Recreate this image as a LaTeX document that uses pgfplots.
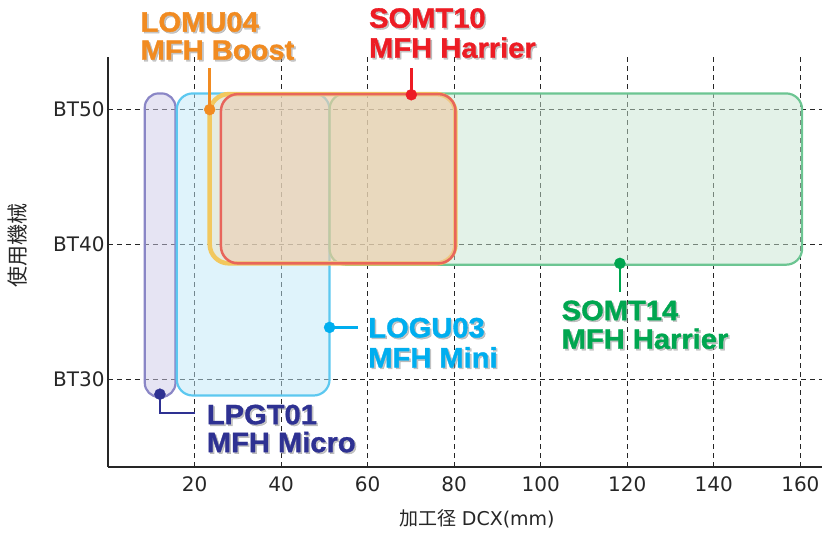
\documentclass[border=0pt]{standalone}
\usepackage{fontspec}
\setmainfont{Liberation Sans}
\newfontfamily\jpfont{Noto Sans CJK JP}
\newfontfamily\tickfont{DejaVu Sans}
\newfontfamily\lblfont{Liberation Sans Bold}[FakeBold=1.2, FakeStretch=1.04]
\usepackage{pgfplots}
\pgfplotsset{compat=1.18}

% box colours (fills are drawn half transparent)
\definecolor{microLine}{HTML}{8A86C6}
\definecolor{microFill}{HTML}{CDC9E7}
\definecolor{miniLine}{HTML}{5CC8F0}
\definecolor{miniFill}{HTML}{BFE7F7}
\definecolor{harrLine}{HTML}{6CC592}
\definecolor{harrFill}{HTML}{C7E5D1}
\definecolor{boostLine}{HTML}{F2C85E}
\definecolor{boostFill}{HTML}{F5D9A0}
\definecolor{tenLine}{HTML}{E8655B}
\definecolor{tenFill}{HTML}{ECC8AA}
% callout colours
\definecolor{cOrange}{HTML}{F18B21}
\definecolor{cRed}{HTML}{ED1C24}
\definecolor{cBlue}{HTML}{00AEEF}
\definecolor{cNavy}{HTML}{2E3192}
\definecolor{cGreen}{HTML}{00A650}

\newcommand{\lbl}{\lblfont\fontsize{28bp}{30bp}\selectfont}
% x, y of first baseline, y of second baseline, colour, line 1, line 2
\newcommand{\callout}[6]{%
  \node[anchor=base west, inner sep=0pt, text=black!45, text opacity=0.5]
    at ([xshift=1.6bp,yshift=-1.6bp]axis cs:#1,#2) {\lbl #5};
  \node[anchor=base west, inner sep=0pt, text=black!45, text opacity=0.5]
    at ([xshift=1.6bp,yshift=-1.6bp]axis cs:#1,#3) {\lbl #6};
  \node[anchor=base west, inner sep=0pt, text=#4] at (axis cs:#1,#2) {\lbl #5};
  \node[anchor=base west, inner sep=0pt, text=#4] at (axis cs:#1,#3) {\lbl #6};
}

\begin{document}
\begin{tikzpicture}
\begin{axis}[
    name=ax,
    scale only axis,
    width=714bp, height=410bp,
    xmin=0, xmax=165, ymin=23.5, ymax=53.9,
    axis x line*=bottom, axis y line*=left,
    axis line style={-, line width=1.8bp, black!85},
    xtick={20,40,...,160},
    ytick={30,40,50},
    yticklabels={BT30,BT40,BT50},
    major tick length=0pt,
    tick label style={font=\tickfont\fontsize{20bp}{22bp}\selectfont, text=black!85},
    xticklabel style={yshift=-6bp},
    /pgf/number format/assume math mode=true,
    grid=major,
    major grid style={black!85, line width=1bp, dash pattern=on 5bp off 4bp},
    clip=false,
]
% LPGT01 MFH Micro
\addplot[draw=microLine, fill=microFill, fill opacity=0.5, line width=2.2bp, rounded corners=14bp]
  coordinates {(12,28.7) (15.6,28.7) (15.6,51.2) (8.5,51.2) (8.5,28.7) (12,28.7)};
% LOGU03 MFH Mini
\addplot[draw=miniLine, fill=miniFill, fill opacity=0.5, line width=2.2bp, rounded corners=16bp]
  coordinates {(33,28.8) (51.2,28.8) (51.2,51.2) (15.9,51.2) (15.9,28.8) (33,28.8)};
% SOMT14 MFH Harrier
\addplot[draw=harrLine, fill=harrFill, fill opacity=0.5, line width=2.2bp, rounded corners=16bp]
  coordinates {(105,38.5) (160.4,38.5) (160.4,51.2) (51.2,51.2) (51.2,38.5) (105,38.5)};
% LOMU04 MFH Boost
\addplot[draw=boostLine, fill=boostFill, fill opacity=0.3, line width=4.5bp, rounded corners=19bp]
  coordinates {(50,38.6) (80.3,38.6) (80.3,51.15) (23.5,51.15) (23.5,38.6) (50,38.6)};
% SOMT10 MFH Harrier
\addplot[draw=tenLine, fill=tenFill, fill opacity=0.5, line width=2.5bp, rounded corners=17bp]
  coordinates {(50,38.6) (80.3,38.6) (80.3,51.15) (26.1,51.15) (26.1,38.6) (50,38.6)};

% callout leaders
\addplot[cOrange, line width=2.5bp] coordinates {(23.5,50) (23.5,53.1)};
\addplot[cRed, line width=2.5bp] coordinates {(70.1,51.1) (70.1,53.05)};
\addplot[cBlue, line width=2.5bp] coordinates {(51.2,33.85) (57.8,33.85)};
\addplot[cNavy, line width=2.5bp] coordinates {(12,28.9) (12,27.5) (20,27.5)};
\addplot[cGreen, line width=2.5bp] coordinates {(118.3,38.6) (118.3,36.45)};
\addplot[cOrange, only marks, mark=*, mark size=5.5bp] coordinates {(23.5,50)};
\addplot[cRed, only marks, mark=*, mark size=5.5bp] coordinates {(70.1,51.1)};
\addplot[cBlue, only marks, mark=*, mark size=5.5bp] coordinates {(51.2,33.85)};
\addplot[cNavy, only marks, mark=*, mark size=5.5bp] coordinates {(12,28.9)};
\addplot[cGreen, only marks, mark=*, mark size=5.5bp] coordinates {(118.3,38.6)};

\callout{7.5}{55.78}{53.70}{cOrange}{LOMU04}{MFH Boost}
\callout{60.3}{56.07}{53.85}{cRed}{SOMT10}{MFH Harrier}
\callout{60.1}{33.11}{30.89}{cBlue}{LOGU03}{MFH Mini}
\callout{22.8}{26.67}{24.60}{cNavy}{LPGT01}{MFH Micro}
\callout{104.8}{34.39}{32.27}{cGreen}{SOMT14}{MFH Harrier}

% axis titles
\node[rotate=90, text=black!85] at (rel axis cs:-0.127,0.54)
  {\jpfont\fontsize{21bp}{24bp}\selectfont 使用機械};
\node[text=black!85] at (rel axis cs:0.517,-0.127)
  {\fontsize{19bp}{22bp}\selectfont{\jpfont 加工径} {\tickfont DCX(mm)}};
\end{axis}
\pgfresetboundingbox
\path ([shift={(-108bp,-66bp)}]ax.south west) rectangle ([shift={(714bp,467bp)}]ax.south west);
\end{tikzpicture}
\end{document}
